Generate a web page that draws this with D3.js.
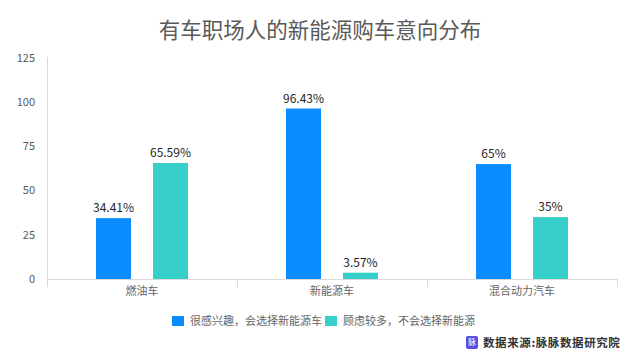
<!DOCTYPE html>
<html>
<head>
<meta charset="utf-8">
<script src="https://cdn.jsdelivr.net/npm/d3@7"></script>
<style>
  body { margin: 0; background: #fff; }
  text { font-family: "Noto Sans CJK SC", "Noto Sans", sans-serif; }
</style>
</head>
<body>
<script>
const width = 640;
const height = 362;

const categories = ["燃油车", "新能源车", "混合动力汽车"];
const seriesNames = ["很感兴趣，会选择新能源车", "顾虑较多，不会选择新能源"];
const interested = [34.41, 96.43, 65];
const hesitant = [65.59, 3.57, 35];
const labelsInterested = ["34.41%", "96.43%", "65%"];
const labelsHesitant = ["65.59%", "3.57%", "35%"];
const yTicks = [0, 25, 50, 75, 100, 125];
const colors = ["#0a8cff", "#36cfc9"];

const rows = categories.map((c, i) => ({
  cat: c,
  values: [
    { key: 0, v: interested[i], label: labelsInterested[i] },
    { key: 1, v: hesitant[i], label: labelsHesitant[i] }
  ]
}));

const svg = d3.select("body").append("svg")
  .attr("width", width)
  .attr("height", height);

const x = d3.scaleBand().domain(categories).range([47, 617]);
const xInner = d3.scaleBand().domain([0, 1]).range([0, x.bandwidth()]).paddingInner(0.386).paddingOuter(0.86);
const y = d3.scaleLinear().domain([0, 125]).range([279, 58]);

// title
svg.append("text")
  .attr("x", 320).attr("y", 38)
  .attr("text-anchor", "middle")
  .attr("font-size", 21.5)
  .attr("fill", "#595959")
  .text("有车职场人的新能源购车意向分布");

// y axis line
svg.append("line")
  .attr("x1", 47.5).attr("x2", 47.5)
  .attr("y1", 57).attr("y2", 287)
  .attr("stroke", "#d9d9d9");

svg.append("g").selectAll("text")
  .data(yTicks)
  .join("text")
  .attr("x", 35)
  .attr("y", d => y(d))
  .attr("dy", "0.35em")
  .attr("text-anchor", "end")
  .attr("font-size", 11)
  .attr("fill", "#595959")
  .text(d => d);

// baseline + category separators
svg.append("line")
  .attr("x1", 47).attr("x2", 617)
  .attr("y1", 279.5).attr("y2", 279.5)
  .attr("stroke", "#d9d9d9");

svg.append("g").selectAll("line")
  .data(categories)
  .join("line")
  .attr("x1", d => x(d) + x.bandwidth() + 0.5)
  .attr("x2", d => x(d) + x.bandwidth() + 0.5)
  .attr("y1", 279).attr("y2", 287)
  .attr("stroke", "#d9d9d9");

svg.append("g").selectAll("text")
  .data(categories)
  .join("text")
  .attr("x", d => x(d) + x.bandwidth() / 2)
  .attr("y", 295)
  .attr("text-anchor", "middle")
  .attr("font-size", 11)
  .attr("fill", "#666")
  .text(d => d);

// bars
const groups = svg.append("g").selectAll("g")
  .data(rows)
  .join("g")
  .attr("transform", d => `translate(${x(d.cat)},0)`);

groups.selectAll("rect")
  .data(d => d.values)
  .join("rect")
  .attr("x", d => xInner(d.key))
  .attr("width", xInner.bandwidth())
  .attr("y", d => y(d.v))
  .attr("height", d => y(0) - y(d.v))
  .attr("fill", d => colors[d.key]);

groups.selectAll("text")
  .data(d => d.values)
  .join("text")
  .attr("x", d => xInner(d.key) + xInner.bandwidth() / 2)
  .attr("y", d => y(d.v) - 6)
  .attr("text-anchor", "middle")
  .attr("font-size", 12)
  .attr("fill", "#262626")
  .text(d => d.label);

// legend
const legendX = [172, 325];
const legend = svg.append("g").selectAll("g")
  .data(seriesNames)
  .join("g")
  .attr("transform", (d, i) => `translate(${legendX[i]},316)`);

legend.append("rect")
  .attr("width", 12).attr("height", 10)
  .attr("fill", (d, i) => colors[i]);

legend.append("text")
  .attr("x", 18).attr("y", 5)
  .attr("dy", "0.35em")
  .attr("font-size", 11)
  .attr("fill", "#666")
  .text(d => d);

// source watermark
svg.append("rect")
  .attr("x", 466).attr("y", 336)
  .attr("width", 12).attr("height", 13)
  .attr("rx", 2)
  .attr("fill", "#5a4de0");
svg.append("text")
  .attr("x", 472).attr("y", 342.5)
  .attr("dy", "0.35em")
  .attr("text-anchor", "middle")
  .attr("font-size", 8)
  .attr("fill", "#fff")
  .text("脉");
svg.append("text")
  .attr("x", 483).attr("y", 342.5)
  .attr("dy", "0.35em")
  .attr("font-size", 11.5)
  .attr("font-weight", "bold")
  .attr("letter-spacing", 0.6)
  .attr("fill", "#333")
  .text("数据来源:脉脉数据研究院");
</script>
</body>
</html>
